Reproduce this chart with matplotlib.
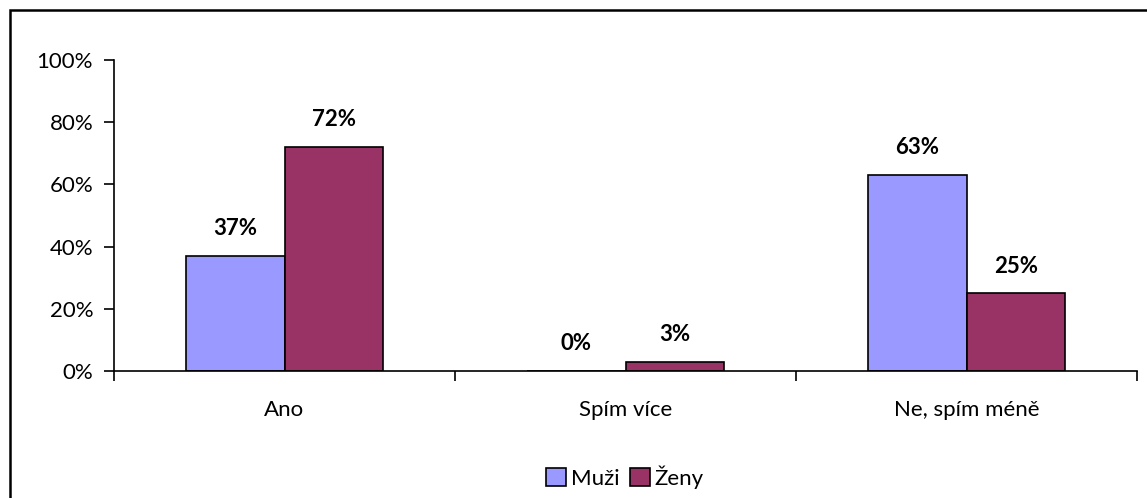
import numpy as np
import matplotlib.pyplot as plt
from matplotlib.patches import Rectangle
from matplotlib.ticker import FuncFormatter

categories = ["Ano", "Spím více", "Ne, spím méně"]
muzi = [37, 0, 63]
zeny = [72, 3, 25]
series_names = ["Muži", "Ženy"]
colors = ["#9999FF", "#993366"]

plt.rcParams['font.family'] = ['Lato', 'DejaVu Sans']
plt.rcParams['font.size'] = 16

fig = plt.figure(figsize=(11.47, 4.98), dpi=100)
# ramecek kolem grafu
fig.patches.append(Rectangle((10 / 1147, -0.5), 1.5, 1.5 - 10 / 498,
                             transform=fig.transFigure, fill=False,
                             edgecolor="black", linewidth=1.8))
ax = fig.add_axes([114 / 1147, 1 - 371 / 498, (1137 - 114) / 1147, (371 - 60) / 498])

x = np.arange(len(categories))
w = 0.29
b1 = ax.bar(x - w / 2, muzi, w, color=colors[0], edgecolor="black", linewidth=1.2, label=series_names[0])
b2 = ax.bar(x + w / 2, zeny, w, color=colors[1], edgecolor="black", linewidth=1.2, label=series_names[1])

for bars, vals in [(b1, muzi), (b2, zeny)]:
    for r, v in zip(bars, vals):
        ax.annotate(f"{v}%", (r.get_x() + r.get_width() / 2, v), xytext=(0, 12),
                    textcoords="offset points", ha="center", va="bottom",
                    fontweight="bold", fontsize=16)

ax.set_xlim(-0.5, 2.5)
ax.set_ylim(0, 100)
ax.set_yticks(range(0, 101, 20))
ax.yaxis.set_major_formatter(FuncFormatter(lambda v, p: f"{v:.0f}%"))
ax.set_xticks([-0.5, 0.5, 1.5, 2.5])
ax.set_xticklabels([])
ax.set_xticks(x, minor=True)
ax.set_xticklabels(categories, minor=True)
ax.tick_params(axis="x", which="minor", length=0, pad=21)
ax.tick_params(axis="x", which="major", length=7, width=1.2, direction="out")
ax.tick_params(axis="y", length=7, width=1.2, direction="out", pad=8)
ax.spines["top"].set_visible(False)
ax.spines["right"].set_visible(False)
ax.spines["left"].set_linewidth(1.2)
ax.spines["bottom"].set_linewidth(1.2)
ax.spines["bottom"].set_zorder(5)

fig.legend(loc="center", bbox_to_anchor=(625 / 1147, 1 - 477 / 498), ncol=2,
           frameon=False, handlelength=0.9, handleheight=0.9, handletextpad=0.2,
           columnspacing=0.5, fontsize=16)

fig.savefig("out.png", dpi=100)
